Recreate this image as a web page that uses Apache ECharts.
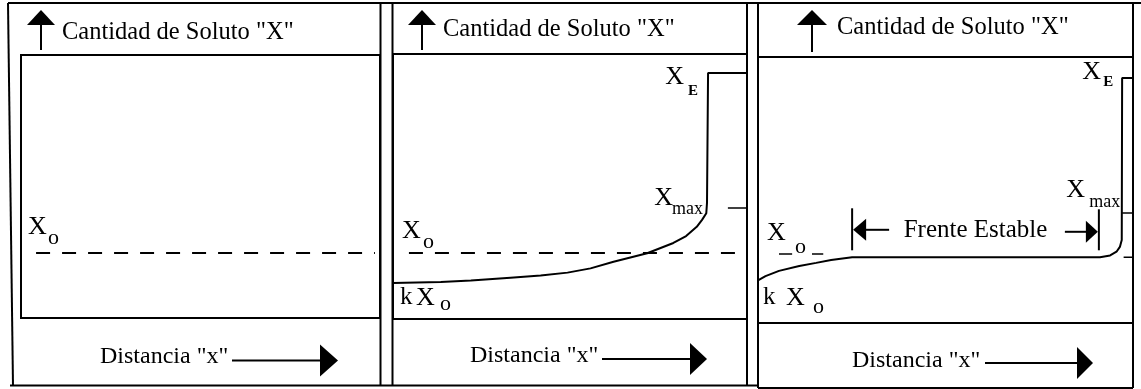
<!DOCTYPE html>
<html>
<head>
<meta charset="utf-8">
<script src="https://cdn.jsdelivr.net/npm/echarts@6/dist/echarts.min.js"></script>
<style>
  html, body { margin: 0; padding: 0; background: #fff; }
  #c { width: 1141px; height: 389px; }
</style>
</head>
<body>
<div id="c"></div>
<script>
// Solute amount "X" against distance "x": initial state, transient, steady front.
const yTitle = 'Cantidad de Soluto "X"';
const xTitle = 'Distancia "x"';
const frenteText = 'Frente Estable';

// Initial level X_o in each of the three panels (axis units 0..100)
const xoLevel = [24.7, 24.9, 25.9];
// Extent of the dashed X_o reference line, panels 1 and 2
const xoSpan1 = [4.2, 98.6];
const xoSpan2 = [4.5, 98.0];
// Short X_o marks in panel 3
const xoMarkA3 = [5.6, 9.1];
const xoMarkB3 = [14.4, 17.4];

// Panel 2: transient profile, from kX_o up to X_E
const profile2 = [
  [0, 13.6], [13.5, 14.0], [22.0, 14.5], [33.2, 15.6], [41.7, 16.4],
  [49.3, 17.5], [55.8, 19.1], [62.3, 21.6], [71.8, 24.8], [79.2, 28.7],
  [82.8, 31.3], [85.8, 34.8], [87.3, 37.4], [88.5, 39.9], [88.7, 43.8],
  [89.0, 92.8], [100, 92.8]
];
const xMax2 = 41.9;
const xMaxTick2 = [94.6, 100];

// Panel 3: steady profile with a flat front at X_o
const profile3 = [
  [0, 16.0], [2.0, 17.6], [5.6, 19.6], [11.0, 21.4], [15.5, 22.6],
  [19.5, 23.7], [25.1, 24.7], [91.2, 24.7], [93.9, 25.4], [95.6, 26.8],
  [96.5, 28.6], [97.0, 31.2], [97.1, 92.1], [100, 92.1]
];
const xMax3 = 41.4;
const xMaxTick3 = [97.1, 100];
const plateauTick3 = [97.5, 100];
const frente = [25.1, 90.9];

const FONT = "'Liberation Serif', 'Times New Roman', serif";
const grids = [
  { left: 21, top: 55, width: 359, height: 263 },
  { left: 393, top: 54, width: 354, height: 265 },
  { left: 758, top: 57, width: 375, height: 266 }
];

function seriesLine(gi, data, extra) {
  return {
    type: 'line', xAxisIndex: gi, yAxisIndex: gi, data: data,
    symbol: 'none', silent: true, animation: false,
    lineStyle: Object.assign({ color: '#000', width: 2 }, extra || {})
  };
}
const dashed = { type: [14, 12] };

const option = {
  animation: false,
  backgroundColor: '#fff',
  grid: grids.map(g => Object.assign({
    show: true, borderColor: '#000', borderWidth: 2, backgroundColor: 'transparent'
  }, g)),
  xAxis: grids.map((g, i) => ({ type: 'value', gridIndex: i, min: 0, max: 100, show: false })),
  yAxis: grids.map((g, i) => ({ type: 'value', gridIndex: i, min: 0, max: 100, show: false })),
  series: [
    seriesLine(0, xoSpan1.map(x => [x, xoLevel[0]]), dashed),
    seriesLine(1, xoSpan2.map(x => [x, xoLevel[1]]), dashed),
    seriesLine(1, profile2),
    seriesLine(1, xMaxTick2.map(x => [x, xMax2]), { width: 1.5 }),
    seriesLine(2, xoMarkA3.map(x => [x, xoLevel[2]]), { width: 1.5 }),
    seriesLine(2, xoMarkB3.map(x => [x, xoLevel[2]]), { width: 1.5 }),
    seriesLine(2, profile3),
    seriesLine(2, xMaxTick3.map(x => [x, xMax3]), { width: 1.5 }),
    seriesLine(2, plateauTick3.map(x => [x, profile3[profile3.length - 8][1]]), { width: 1.5 })
  ]
};

const chart = echarts.init(document.getElementById('c'));
chart.setOption(option);

const px = (gi, p) => chart.convertToPixel({ gridIndex: gi }, p);

function txt(x, y, s, size, align, weight) {
  const a = align || 'left';
  return {
    type: 'text', silent: true, z: 10,
    style: {
      text: s, x: x, y: y, fill: '#000',
      font: (weight || 'normal') + ' ' + size + 'px ' + FONT,
      align: a, textAlign: a, verticalAlign: 'middle', textVerticalAlign: 'middle'
    }
  };
}
function seg(x1, y1, x2, y2, w) {
  return { type: 'line', silent: true, z: 10, shape: { x1, y1, x2, y2 }, style: { stroke: '#000', lineWidth: w || 2 } };
}
function tri(points) {
  return { type: 'polygon', silent: true, z: 10, shape: { points }, style: { fill: '#000' } };
}

// Title and axis-caption bands of each panel
const bands = [
  { title: [62, 33], up: [41, 10, 25, 14, 50], axis: [100, 357, 232, 320, 338, 360.5, 16] },
  { title: [443, 30], up: [422, 10, 25, 14, 50], axis: [470, 356, 602, 690, 707, 359, 16] },
  { title: [837, 28], up: [812, 10, 25, 15, 52], axis: [852, 361, 985, 1077, 1093, 363, 16] }
];

const g = [];
// outer frame
g.push(seg(8, 3, 1141, 3));
g.push(seg(8, 3, 13, 386));
g.push(seg(380.5, 3, 380.5, 386));
g.push(seg(392.5, 3, 392.5, 386));
g.push(seg(747, 3, 747, 386));
g.push(seg(758, 3, 758, 388));
g.push(seg(1133, 3, 1133, 388));
g.push(seg(10, 385.5, 758, 385.5));
g.push(seg(758, 388, 1133, 388));

bands.forEach(b => {
  const [ux, tip, base, hw, end] = b.up;
  g.push(seg(ux, base - 1, ux, end, 2));
  g.push(tri([[ux, tip], [ux - hw, base], [ux + hw, base]]));
  g.push(txt(b.title[0], b.title[1], yTitle, 24.5));
  const [tx, ty, l0, l1, tp, ly, hh] = b.axis;
  g.push(txt(tx, ty, xTitle, 24));
  g.push(seg(l0, ly, l1 + 1, ly, 2));
  g.push(tri([[l1, ly - hh], [tp, ly], [l1, ly + hh]]));
});

const XS = 26;   // main letter size of the symbol labels
const OS = 22;   // subscript "o"

// Panel 1 label
(function () {
  const d = px(0, [0, xoLevel[0]]);
  g.push(txt(d[0] + 7, d[1] - 26, 'X', XS));
  g.push(txt(d[0] + 27, d[1] - 15, 'o', OS));
})();

// Panel 2 labels
(function () {
  const d = px(1, [0, xoLevel[1]]);
  g.push(txt(d[0] + 9, d[1] - 22, 'X', XS));
  g.push(txt(d[0] + 30, d[1] - 11, 'o', OS));
  const s = px(1, profile2[0]);
  g.push(txt(s[0] + 7, s[1] + 14, 'k', 25));
  g.push(txt(s[0] + 23, s[1] + 15.5, 'X', XS));
  g.push(txt(s[0] + 47, s[1] + 21, 'o', OS));
  const c = px(1, profile2[profile2.length - 2]);
  g.push(txt(c[0] - 24, c[1] + 4.5, 'X', XS, 'right'));
  g.push(txt(c[0] - 20, c[1] + 18, 'E', 15, 'left', 'bold'));
  const m = px(1, [profile2[profile2.length - 2][0], xMax2]);
  g.push(txt(m[0] - 35, m[1] - 9.5, 'X', XS, 'right'));
  g.push(txt(m[0] - 5, m[1] + 1, 'max', 18, 'right'));
})();

// Panel 3 labels and the steady-front span
(function () {
  const d = px(2, [0, xoLevel[2]]);
  g.push(txt(d[0] + 9, d[1] - 21, 'X', XS));
  g.push(txt(d[0] + 37, d[1] - 7, 'o', OS));
  const s = px(2, profile3[0]);
  g.push(txt(s[0] + 5, s[1] + 17, 'k', 25));
  g.push(txt(s[0] + 28, s[1] + 17.5, 'X', XS));
  g.push(txt(s[0] + 55, s[1] + 26.5, 'o', OS));
  const c = px(2, profile3[profile3.length - 2]);
  g.push(txt(c[0] - 21, c[1] - 5.5, 'X', XS, 'right'));
  g.push(txt(c[0] - 19, c[1] + 4.5, 'E', 15, 'left', 'bold'));
  const m = px(2, [profile3[profile3.length - 2][0], xMax3]);
  g.push(txt(m[0] - 37, m[1] - 23, 'X', XS, 'right'));
  g.push(txt(m[0] - 2, m[1] - 11, 'max', 18, 'right'));

  const flat = profile3.find(p => p[0] === frente[0])[1];
  const L = px(2, [frente[0], flat]);
  const R = px(2, [frente[1], flat]);
  const ay = L[1] - 27.5;
  g.push(seg(L[0], L[1] - 49, L[0], L[1] - 7, 2));
  g.push(seg(R[0], R[1] - 48, R[0], R[1] - 7, 2));
  g.push(tri([[L[0] + 1, ay], [L[0] + 14, ay - 11], [L[0] + 14, ay + 11]]));
  g.push(seg(L[0] + 13, ay, L[0] + 37, ay, 2));
  g.push(tri([[R[0] - 1, ay + 2], [R[0] - 13, ay - 9], [R[0] - 13, ay + 13]]));
  g.push(seg(R[0] - 34, ay + 2, R[0] - 12, ay + 2, 2));
  g.push(txt((L[0] + R[0]) / 2, ay + 0.5, frenteText, 25, 'center'));
})();

chart.setOption({ graphic: { elements: g } });
</script>
</body>
</html>
